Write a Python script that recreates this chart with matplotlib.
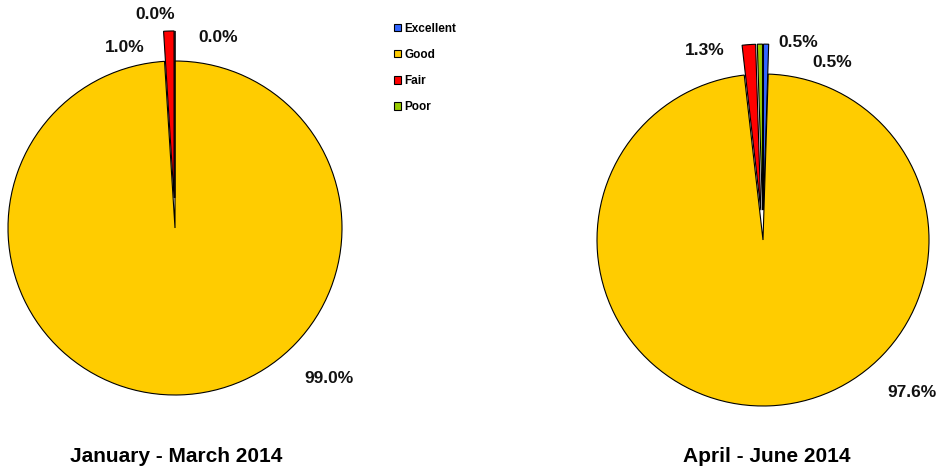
import matplotlib.pyplot as plt
from matplotlib.patches import Patch

plt.rcParams['font.family'] = ['Liberation Sans', 'DejaVu Sans']

# ocena jakosci - dwa kwartaly
categories = ['Excellent', 'Good', 'Fair', 'Poor']
colors = ['#3366FF', '#FFCC00', '#FF0000', '#99CC00']

q1_values = [0.0, 99.0, 1.0, 0.0]
q2_values = [0.5, 97.6, 1.3, 0.5]
q1_title = 'January - March 2014'
q2_title = 'April - June 2014'

# polozenie etykiet procentowych (jednostki promienia)
q1_lab_pos = [(0.26, 1.14), (0.92, -0.90), (-0.30, 1.08), (-0.12, 1.28)]
q2_lab_pos = [(0.42, 1.07), (0.90, -0.92), (-0.35, 1.14), (0.21, 1.19)]

W, H = 945, 471
fig = plt.figure(figsize=(W/100, H/100), dpi=100)

def rysuj(cx, cy, r, vals, lab_pos, title, tx):
    L = 1.35
    s = 2*L*r
    ax = fig.add_axes([(cx - s/2)/W, (H - cy - s/2)/H, s/W, s/H])
    explode = [0 if c == 'Good' else 0.18 for c in categories]
    ax.pie(vals, colors=colors, startangle=90, counterclock=False,
           explode=explode, radius=1,
           wedgeprops=dict(edgecolor='black', linewidth=0.8))
    for v, (x, y) in zip(vals, lab_pos):
        ax.text(x, y, '%.1f%%' % v, ha='center', va='center',
                fontsize=12.5, fontweight='bold', color='#111111')
    ax.set_xlim(-L, L)
    ax.set_ylim(-L, L)
    ax.set_aspect('equal')
    ax.axis('off')
    fig.text(tx/W, 1 - 456/H, title, ha='center', va='center',
             fontsize=15, fontweight='bold')

rysuj(175, 228, 167, q1_values, q1_lab_pos, q1_title, 176)
rysuj(763, 240, 166, q2_values, q2_lab_pos, q2_title, 767)

handles = [Patch(facecolor=c, edgecolor='black', linewidth=0.8) for c in colors]
leg = fig.legend(handles, categories, loc='upper left',
                 bbox_to_anchor=(383/W, 1 - 12/H), frameon=False,
                 prop=dict(size=8.5, weight='bold'),
                 handlelength=0.6, handleheight=0.6, handletextpad=0.3,
                 labelspacing=1.2)

fig.savefig('out.png', dpi=100)
